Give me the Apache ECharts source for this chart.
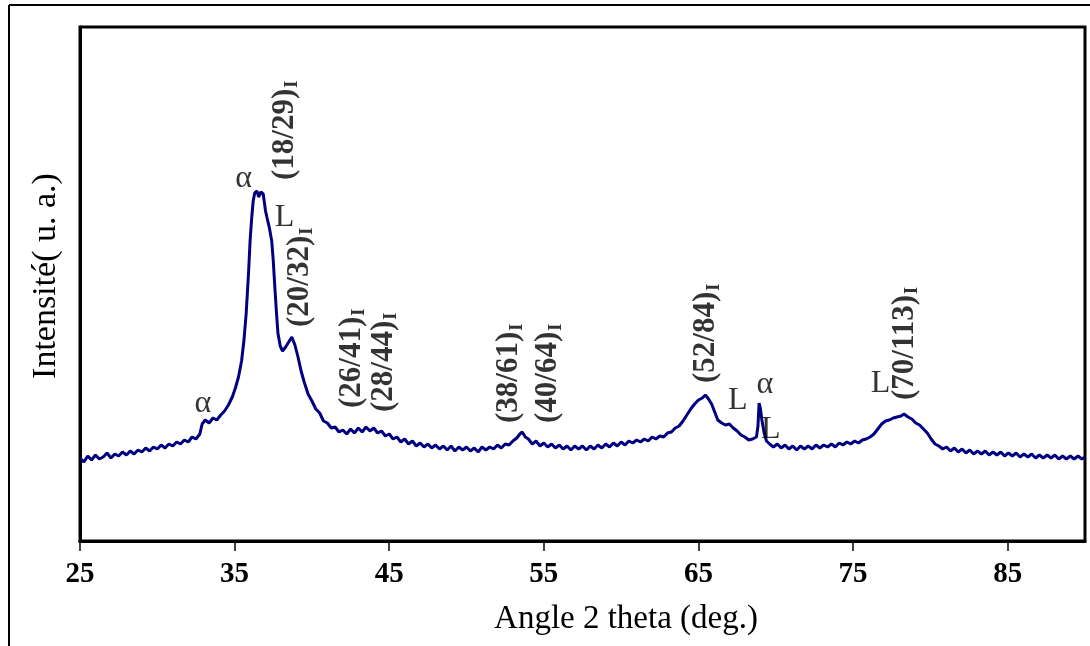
<!DOCTYPE html>
<html>
<head>
<meta charset="utf-8">
<script src="https://cdn.jsdelivr.net/npm/echarts@6/dist/echarts.min.js"></script>
<style>html,body{margin:0;padding:0;background:#fff}#c{width:1090px;height:646px}</style>
</head>
<body>
<div id="c"></div>
<script>
// ---- data ----
const theta = [25.00,25.25,25.50,25.75,26.00,26.25,26.50,26.75,27.00,27.25,27.50,27.75,28.00,28.25,28.50,28.75,29.00,29.25,29.50,29.75,30.00,30.25,30.50,30.75,31.00,31.25,31.50,31.75,32.00,32.25,32.50,32.75,32.90,33.10,33.35,33.60,33.85,34.10,34.35,34.60,34.85,35.05,35.25,35.45,35.60,35.75,35.90,36.00,36.10,36.20,36.30,36.45,36.55,36.70,36.85,37.00,37.10,37.25,37.40,37.50,37.60,37.70,37.80,37.95,38.10,38.30,38.50,38.70,38.90,39.10,39.30,39.50,39.75,40.00,40.25,40.50,40.75,41.00,41.25,41.50,41.75,42.00,42.25,42.50,42.75,43.00,43.25,43.50,43.75,44.00,44.25,44.50,44.75,45.00,45.25,45.50,45.75,46.00,46.25,46.50,46.75,47.00,47.25,47.50,47.75,48.00,48.25,48.50,48.75,49.00,49.25,49.50,49.75,50.00,50.25,50.50,50.75,51.00,51.25,51.50,51.75,52.00,52.25,52.50,52.75,53.00,53.25,53.45,53.60,53.80,54.00,54.25,54.50,54.75,55.00,55.25,55.50,55.75,56.00,56.25,56.50,56.75,57.00,57.25,57.50,57.75,58.00,58.25,58.50,58.75,59.00,59.25,59.50,59.75,60.00,60.25,60.50,60.75,61.00,61.25,61.50,61.75,62.00,62.25,62.50,62.75,63.00,63.25,63.50,63.75,64.00,64.25,64.50,64.75,65.00,65.25,65.45,65.65,65.85,66.05,66.25,66.50,66.75,67.00,67.25,67.50,67.75,68.00,68.25,68.50,68.75,68.85,68.92,69.00,69.10,69.25,69.40,69.60,69.85,70.10,70.35,70.60,70.85,71.10,71.35,71.60,71.85,72.10,72.35,72.60,72.85,73.10,73.35,73.60,73.85,74.10,74.35,74.60,74.85,75.10,75.35,75.60,75.85,76.10,76.35,76.60,76.85,77.10,77.35,77.60,77.85,78.10,78.30,78.55,78.80,79.05,79.30,79.55,79.80,80.05,80.30,80.55,80.80,81.05,81.30,81.55,81.80,82.05,82.30,82.55,82.80,83.05,83.30,83.55,83.80,84.05,84.30,84.55,84.80,85.05,85.30,85.55,85.80,86.05,86.30,86.55,86.80,87.05,87.30,87.55,87.80,88.05,88.30,88.55,88.80,89.05,89.30,89.55,89.80,90.00];
const intensity = [83,79,85,81,86,82,84,88,83,87,85,89,86,90,87,91,89,93,90,94,92,96,93,97,95,99,97,101,99,104,102,107,117,121,118,123,121,126,130,136,144,153,164,180,200,228,268,300,322,340,348,350,344,349,347,330,323,313,300,280,254,230,208,195,190,194,199,204,196,184,170,159,147,140,132,128,120,118,113,114,109,111,107,112,108,113,109,114,110,113,108,110,105,107,102,104,99,102,97,100,95,98,94,97,93,96,92,95,91,95,90,94,91,94,90,93,89,94,91,94,92,96,93,97,96,100,103,107,109,104,102,97,100,95,98,94,97,93,96,92,95,91,95,92,95,91,95,92,96,93,97,94,98,95,99,96,100,98,101,99,102,100,104,102,105,104,108,109,113,115,120,126,132,137,141,143,146,142,137,129,121,118,116,117,113,110,106,104,101,102,104,115,138,133,121,108,100,97,94,97,93,96,92,95,91,95,92,95,92,96,93,96,94,97,94,98,96,99,97,100,98,101,102,104,107,112,117,120,121,123,124,125,127,124,122,118,116,112,108,102,97,95,92,94,90,93,89,92,88,91,87,90,87,90,86,89,86,89,85,88,85,88,84,87,84,87,83,86,83,86,83,86,82,85,82,85,82,85,82,84];

const tickValues = [25,35,45,55,65,75,85];
const tickLabels = ['25','35','45','55','65','75','85'];

// peak annotations: text, theta, intensity (anchor), rotated?
const annoText  = ['α','(18/29)','L','(20/32)','α','(26/41)','(28/44)','(38/61)','(40/64)','(52/84)','L','α','L','L','(70/113)'];
const annoTheta = [35.59,38.23,38.23,39.20,32.94,42.56,44.63,52.76,55.28,65.48,67.54,69.29,69.67,76.78,78.33];
const annoValue = [362,361,323,214,137,133,129,118,118,158,140,156,111,157,141];
const annoRot   = [false,true,false,true,false,true,true,true,true,true,false,false,false,false,true];

const xTitle = 'Angle 2 theta (deg.)';
const yTitle = 'Intensité( u. a.)';

// ---- chart ----
const serif = '"Liberation Serif","Times New Roman",serif';
const lineData = theta.map((t, i) => [t, intensity[i]]);
const annoData = annoText.map((t, i) => {
  const rot = annoRot[i];
  return {
    value: [annoTheta[i], annoValue[i]],
    label: rot ? {
      show: true, position: [0, 0], rotate: 90, align: 'left', verticalAlign: 'middle',
      formatter: '{m|' + t + '}{s|I}',
      rich: {
        m: { fontFamily: serif, fontWeight: 'bold', fontSize: 31, color: '#000', lineHeight: 32 },
        s: { fontFamily: serif, fontWeight: 'bold', fontSize: 18, color: '#000', lineHeight: 34, verticalAlign: 'bottom', padding: [0, 0, 0, 1] }
      }
    } : {
      show: true, position: [0, 0], align: 'center', verticalAlign: 'middle',
      formatter: t, fontFamily: serif, fontSize: 32, color: '#000'
    }
  };
});

const chart = echarts.init(document.getElementById('c'), null, { renderer: 'canvas' });
chart.setOption({
  animation: false,
  backgroundColor: '#fff',
  grid: { left: 80, top: 27, right: 5, bottom: 105, show: true, borderColor: '#000', borderWidth: 3, backgroundColor: 'transparent' },
  xAxis: {
    type: 'value', min: 25, max: 90,
    axisLine: { show: true, onZero: false, lineStyle: { color: '#000', width: 3 } },
    axisTick: { show: true, customValues: tickValues, length: 10, lineStyle: { color: '#000', width: 1.5 } },
    axisLabel: { customValues: tickValues, formatter: v => tickLabels[tickValues.indexOf(v)] || '', fontFamily: serif, fontWeight: 'bold', fontSize: 29, color: '#000', margin: 19 },
    splitLine: { show: false }
  },
  yAxis: {
    type: 'value', min: 0, max: 514,
    axisLine: { show: true, lineStyle: { color: '#000', width: 3 } },
    axisTick: { show: false }, axisLabel: { show: false }, splitLine: { show: false }
  },
  series: [
    { type: 'line', data: lineData, showSymbol: false, symbol: 'none', lineStyle: { color: '#000080', width: 3 }, z: 3 },
    { type: 'scatter', data: annoData, symbolSize: 0, silent: true, z: 5 }
  ],
  graphic: [
    { type: 'line', shape: { x1: 9, y1: 5, x2: 1090, y2: 5 }, style: { stroke: '#000', lineWidth: 2 } },
    { type: 'line', shape: { x1: 9, y1: 5, x2: 9, y2: 646 }, style: { stroke: '#000', lineWidth: 2 } },
    { type: 'text', x: 626, y: 619, style: { text: xTitle, fontFamily: serif, fontSize: 33, fill: '#000', align: 'center', verticalAlign: 'middle' } },
    { type: 'text', x: 46, y: 276, rotation: Math.PI / 2, style: { text: yTitle, fontFamily: serif, fontSize: 34, fill: '#000', align: 'center', verticalAlign: 'middle' } }
  ]
});
</script>
</body>
</html>
